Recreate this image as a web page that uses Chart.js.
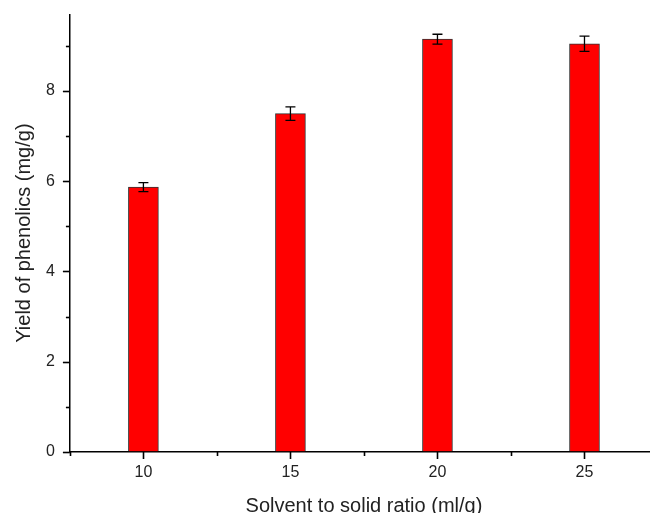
<!DOCTYPE html>
<html>
<head>
<meta charset="utf-8">
<script src="https://cdn.jsdelivr.net/npm/chart.js@4"></script>
<style>
  html, body { margin: 0; padding: 0; background: #fff; overflow: hidden; }
</style>
</head>
<body>
<canvas id="myChart" width="662" height="518"></canvas>
<script>
// data
const ratios = [10, 15, 20, 25];
const yields = [5.87, 7.5, 9.15, 9.05];
const errors = [0.1, 0.15, 0.11, 0.17];
const xTickLabels = ['10', '15', '20', '25'];
const yTickLabels = ['0', '2', '4', '6', '8'];

const FONT = "'Liberation Sans', Arial, sans-serif";

// error bars + all axis ticks (major 7px, minor 4px)
const extras = {
  id: 'extras',
  afterDraw(chart) {
    const ctx = chart.ctx;
    const x = chart.scales.x;
    const y = chart.scales.y;
    ctx.save();
    ctx.strokeStyle = '#000';
    ctx.lineWidth = 1.3;
    ratios.forEach((r, i) => {
      const px = x.getPixelForValue(r);
      const top = y.getPixelForValue(yields[i] + errors[i]);
      const bot = y.getPixelForValue(yields[i] - errors[i]);
      ctx.beginPath();
      ctx.moveTo(px, top); ctx.lineTo(px, bot);
      ctx.moveTo(px - 5, top); ctx.lineTo(px + 5, top);
      ctx.moveTo(px - 5, bot); ctx.lineTo(px + 5, bot);
      ctx.stroke();
    });
    ctx.lineWidth = 1.6;
    const base = Math.round(y.bottom);
    for (let v = 7.5; v <= 27.5; v += 2.5) {
      const len = ratios.includes(v) ? 7 : 4;
      const px = Math.round(x.getPixelForValue(v)) + 0.5;
      ctx.beginPath();
      ctx.moveTo(px, base); ctx.lineTo(px, base + len);
      ctx.stroke();
    }
    for (let v = 0; v <= 9; v++) {
      const len = v % 2 === 0 ? 7 : 4;
      const py = Math.round(y.getPixelForValue(v)) + 0.5;
      ctx.beginPath();
      ctx.moveTo(x.left, py); ctx.lineTo(x.left - len, py);
      ctx.stroke();
    }
    ctx.restore();
  }
};

new Chart(document.getElementById('myChart'), {
  type: 'bar',
  data: {
    datasets: [{
      data: ratios.map((r, i) => ({x: r, y: yields[i]})),
      backgroundColor: '#ff0000',
      borderColor: '#333',
      borderWidth: 1,
      borderSkipped: 'bottom',
      barThickness: 30,
    }],
  },
  options: {
    responsive: false,
    animation: false,
    layout: { padding: { top: 0, right: 0, left: 4, bottom: 0 } },
    plugins: { legend: { display: false }, tooltip: { enabled: false } },
    scales: {
      x: {
        type: 'linear',
        offset: false,
        min: 7.5,
        max: 27.5,
        afterBuildTicks: (axis) => {
          const t = [];
          for (let v = 7.5; v <= 27.5; v += 2.5) t.push({value: v});
          axis.ticks = t;
        },
        ticks: {
          autoSkip: false,
          maxRotation: 0,
          color: '#222',
          font: { family: FONT, size: 16 },
          padding: 4,
          callback: (v) => {
            const i = ratios.indexOf(v);
            return i >= 0 ? xTickLabels[i] : '';
          },
        },
        grid: {
          offset: false,
          drawOnChartArea: false,
          tickLength: 7,
          tickColor: 'rgba(0,0,0,0)',
        },
        border: { color: '#000', width: 1.5 },
        title: {
          display: true,
          text: 'Solvent to solid ratio (ml/g)',
          color: '#222',
          font: { family: FONT, size: 20 },
          padding: { top: 8, bottom: 0 },
        },
      },
      y: {
        min: 0,
        max: 9.7,
        afterBuildTicks: (axis) => {
          const t = [];
          for (let v = 0; v <= 9; v++) t.push({value: v});
          axis.ticks = t;
        },
        ticks: {
          autoSkip: false,
          color: '#222',
          font: { family: FONT, size: 16, lineHeight: 0.8 },
          padding: 8,
          callback: (v) => (v % 2 === 0 ? yTickLabels[v / 2] : ''),
        },
        grid: {
          drawOnChartArea: false,
          tickLength: 7,
          tickColor: 'rgba(0,0,0,0)',
        },
        border: { color: '#000', width: 1.5 },
        title: {
          display: true,
          text: 'Yield of phenolics (mg/g)',
          color: '#222',
          font: { family: FONT, size: 20 },
          padding: { top: 8, bottom: 2 },
        },
      },
    },
  },
  plugins: [extras],
});
</script>
</body>
</html>
